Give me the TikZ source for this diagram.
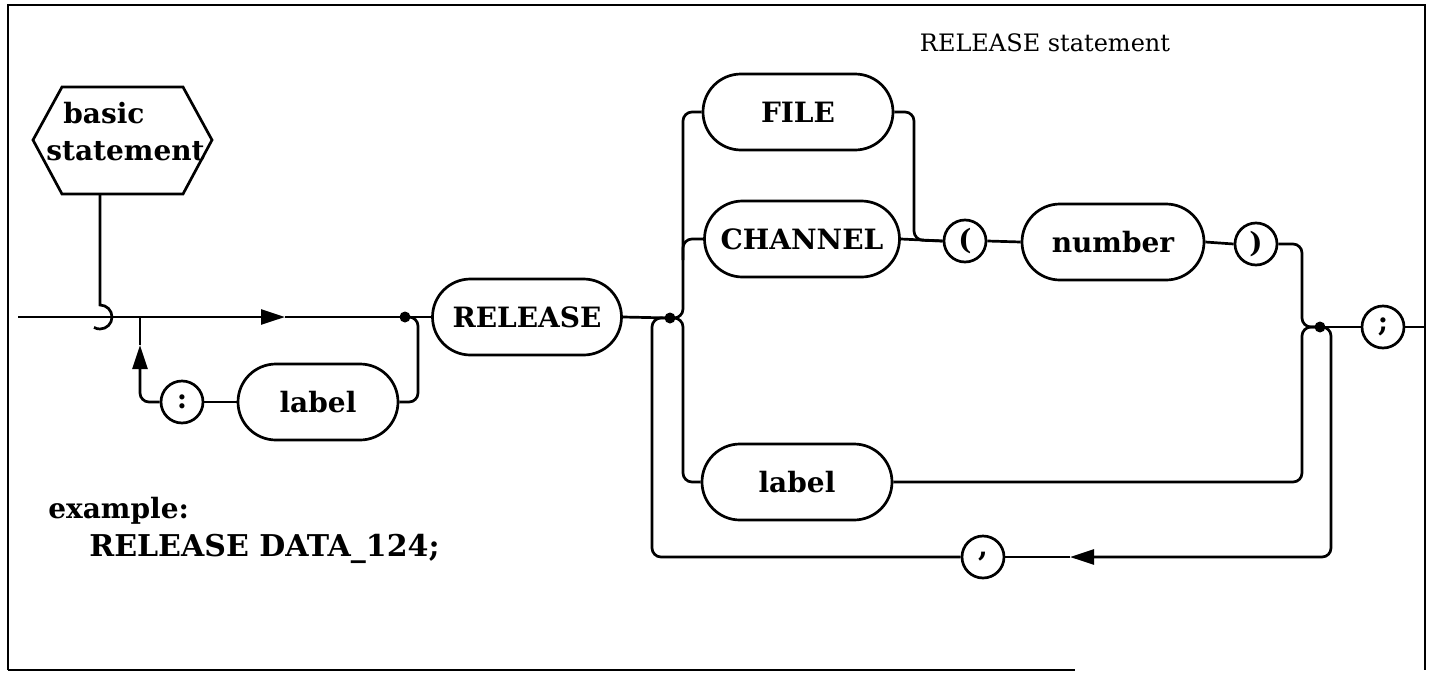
\documentclass[tikz,border=0pt]{standalone}
\usepackage{fontspec}
\setmainfont{DejaVu Serif}
\usetikzlibrary{shapes.misc,arrows.meta}
\begin{document}
\begin{tikzpicture}[x=1pt,y=-1pt,
  line width=2.7pt,
  every node/.style={font=\fontsize{28}{34}\selectfont\bfseries},
  term/.style={draw, rounded rectangle, minimum height=76pt, inner sep=0pt},
  circ/.style={draw, circle, minimum size=42pt, inner sep=0pt},
  conn/.style={rounded corners=9pt},
  tip/.style={-{Triangle[length=24pt,width=15pt]}}
]
\useasboundingbox (0,0) rectangle (1433,675);
% frame
\draw[line width=2.4pt] (8,670) -- (8,5) -- (1425,5) -- (1425,670);
\draw[line width=2.4pt] (8,670) -- (1075,670);
% title
\node[font=\fontsize{24}{30}\selectfont] (title) at (1045,43) {RELEASE statement};
% hexagon
\draw (33,140) -- (62,87) -- (183,87) -- (212,140) -- (183,194) -- (62,194) -- cycle;
\coordinate (hexbot) at (100,194);
\node[anchor=base west, inner sep=0pt] (hexa) at (62,123) {basic};
\node[anchor=base west, inner sep=0pt] (hexb) at (45,160) {statement};
% hook
\coordinate (hooktop) at (100,305);
\draw (hexbot) -- (hooktop) arc[start angle=-90, end angle=120, radius=12];
% nodes
\node[term, minimum width=189pt] (release) at (527,317) {RELEASE};
\node[circ] (colon) at (182,402) {:};
\node[term, minimum width=160pt] (label1) at (318,402) {label};
\node[term, minimum width=190pt] (file) at (798,112) {FILE};
\node[term, minimum width=195pt] (channel) at (802,239) {CHANNEL};
\node[circ] (lparen) at (965,241) {(};
\node[term, minimum width=182pt] (number) at (1113,242) {number};
\node[circ] (rparen) at (1256,244) {)};
\node[term, minimum width=190pt] (label2) at (797,482) {label};
\node[circ] (semi) at (1383,327) {;};
\node[circ] (comma) at (983,557) {,};
% coordinates
\coordinate (start) at (18,317);
\coordinate (arr1) at (285,317);
\coordinate (d1) at (405,317);
\coordinate (d2) at (670,318);
\coordinate (d3) at (1320,327);
\coordinate (endr) at (1425,327);
\coordinate (byl) at (140,317);
\coordinate (arr2) at (140,345);
\coordinate (arr3) at (1070,557);
% dots
\fill (d1) circle (5.5pt);
\fill (d2) circle (5.5pt);
\fill (d3) circle (5.5pt);
% main line left
\draw[tip] (start) -- (arr1);
\draw (arr1) -- (d1) -- (release.west);
% bypass loop
\draw[conn] (label1.east) -- (418,402) -- (418,317) -- (d1);
\draw (label1.west) -- (colon.east);
\draw[conn,tip] (colon.west) -- (140,402) -- (arr2);
\draw (arr2) -- (byl);
% release to junction
\draw (release.east) -- (d2);
% upper branches
\draw[conn] (d2) -- (683,318) -- (683,112) -- (file.west);
\draw[conn] (683,260) -- (683,239) -- (channel.west);
\draw[conn] (d2) -- (683,318) -- (683,482) -- (label2.west);
\draw (channel.east) -- (lparen.west);
\draw[conn] (file.east) -- (914,112) -- (914,240) -- (lparen.west);
\draw (lparen.east) -- (number.west);
\draw (number.east) -- (rparen.west);
\draw[conn] (rparen.east) -- (1302,244) -- (1302,327) -- (d3);
\draw[conn] (label2.east) -- (1302,482) -- (1302,327) -- (d3);
% semicolon
\draw (d3) -- (semi.west);
\draw (semi.east) -- (endr);
% comma loop
\draw[conn,tip] (d3) -- (1331,327) -- (1331,557) -- (arr3);
\draw (arr3) -- (comma.east);
\draw[conn] (comma.west) -- (652,557) -- (652,318) -- (d2);
% example
\node[anchor=base west, inner sep=0pt] (ex1) at (47,518) {example:};
\node[anchor=base west, inner sep=0pt, font=\fontsize{30}{36}\selectfont\bfseries] (ex2) at (88,556) {RELEASE DATA\_124;};
\end{tikzpicture}
\end{document}
